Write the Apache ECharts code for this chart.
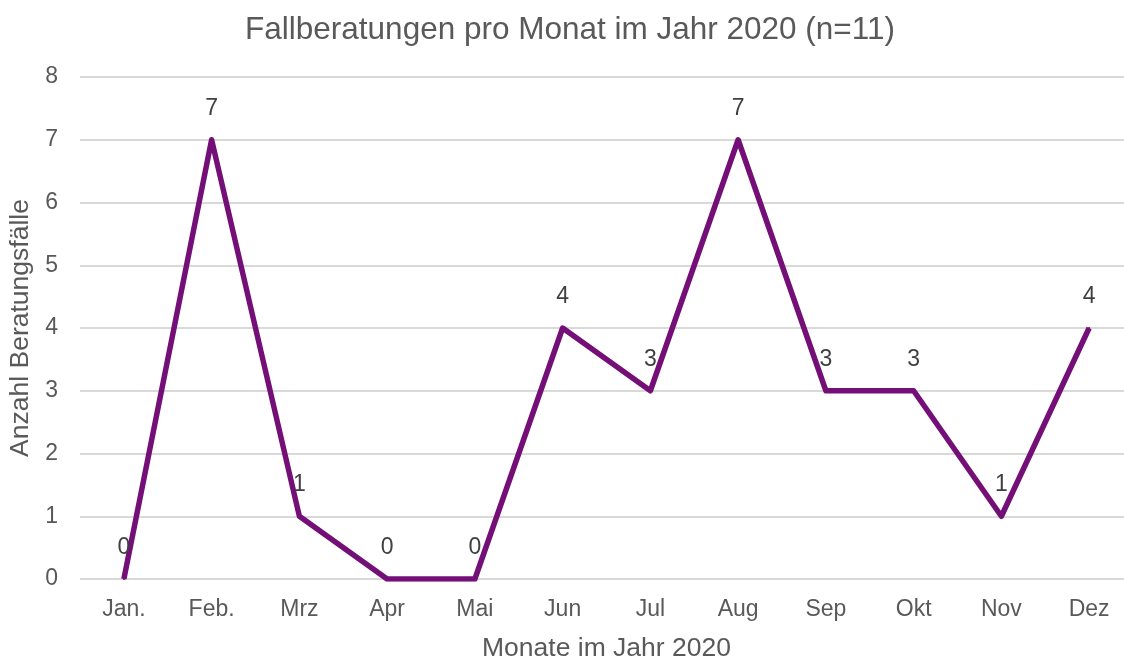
<!DOCTYPE html>
<html>
<head>
<meta charset="utf-8">
<script src="https://cdn.jsdelivr.net/npm/echarts@6/dist/echarts.min.js"></script>
<style>html,body{margin:0;padding:0;background:#fff}#c{width:1124px;height:662px}</style>
</head>
<body>
<div id="c"></div>
<script>
var months = ['Jan.', 'Feb.', 'Mrz', 'Apr', 'Mai', 'Jun', 'Jul', 'Aug', 'Sep', 'Okt', 'Nov', 'Dez'];
var cases = [0, 7, 1, 0, 0, 4, 3, 7, 3, 3, 1, 4];
var titleText = 'Fallberatungen pro Monat im Jahr 2020 (n=11)';
var xName = 'Monate im Jahr 2020';
var yName = 'Anzahl Beratungsfälle';

var chart = echarts.init(document.getElementById('c'));
var font = 'Liberation Sans, Arial, sans-serif';
chart.setOption({
  backgroundColor: '#fff',
  animation: false,
  title: {
    text: titleText, left: 565, top: 9, textAlign: 'center',
    textStyle: {fontFamily: font, fontSize: 31.5, fontWeight: 'normal', color: '#595959'}
  },
  grid: {left: 80, right: -9, top: 77, bottom: 83, containLabel: false, outerBoundsMode: 'none'},
  xAxis: {
    type: 'category', data: months, boundaryGap: true,
    name: xName, nameLocation: 'middle', nameGap: 56,
    nameTextStyle: {fontFamily: font, fontSize: 26.5, color: '#595959'},
    axisLine: {show: false}, axisTick: {show: false},
    axisLabel: {fontFamily: font, fontSize: 23, color: '#595959', margin: 19}
  },
  yAxis: {
    type: 'value', min: 0, max: 8, interval: 1,
    name: yName, nameLocation: 'middle', nameGap: 45, nameRotate: 90,
    nameTextStyle: {fontFamily: font, fontSize: 26.5, color: '#595959'},
    axisLine: {show: false}, axisTick: {show: false},
    axisLabel: {fontFamily: font, fontSize: 23, color: '#595959', margin: 22},
    splitLine: {lineStyle: {color: '#d9d9d9', width: 2}}
  },
  series: [{
    type: 'line', data: cases, symbol: 'circle', showSymbol: true, symbolSize: 2,
    lineStyle: {color: '#750f78', width: 5.5, join: 'round'},
    itemStyle: {color: '#750f78'},
    label: {show: true, position: 'top', distance: 19, fontFamily: font, fontSize: 23, color: '#404040'},
    labelLayout: {hideOverlap: false}
  }]
});
</script>
</body>
</html>
